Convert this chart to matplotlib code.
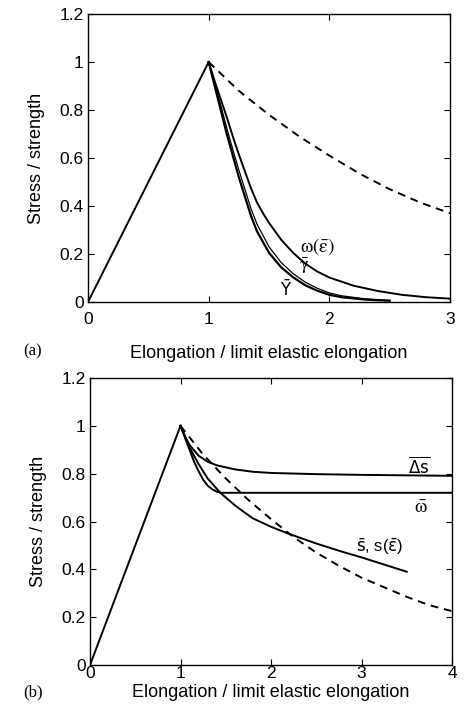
import matplotlib
matplotlib.use("Agg")
import matplotlib.pyplot as plt

plt.rcParams['font.family'] = ['Liberation Sans', 'DejaVu Sans']
plt.rcParams['mathtext.fontset'] = 'dejavusans'

# --- panel (a) ---
elastic_x = [0, 1]
elastic_y = [0, 1]

dash_a_x = [1, 1.25, 1.5, 1.75, 2.0, 2.25, 2.5, 2.75, 3.0]
dash_a_y = [1, 0.88, 0.78, 0.69, 0.61, 0.535, 0.47, 0.415, 0.37]

omega_x = [1, 1.05, 1.1, 1.15, 1.2, 1.25, 1.3, 1.35, 1.4, 1.45, 1.5, 1.6, 1.7, 1.8,
           1.9, 2.0, 2.2, 2.4, 2.6, 2.8, 3.0]
omega_y = [1, 0.92, 0.845, 0.77, 0.69, 0.615, 0.545, 0.475, 0.415, 0.37, 0.33, 0.26,
           0.205, 0.16, 0.127, 0.102, 0.068, 0.046, 0.03, 0.02, 0.014]

gam_x = [1, 1.05, 1.1, 1.15, 1.2, 1.25, 1.3, 1.35, 1.4, 1.5, 1.6, 1.7, 1.8, 1.9, 2.0,
         2.1, 2.3, 2.5]
gam_y = [1, 0.91, 0.82, 0.725, 0.635, 0.55, 0.47, 0.39, 0.325, 0.23, 0.165, 0.118,
         0.083, 0.057, 0.038, 0.026, 0.013, 0.007]

ybar_x = [1, 1.05, 1.1, 1.15, 1.2, 1.25, 1.3, 1.35, 1.4, 1.5, 1.6, 1.7, 1.8, 1.9, 2.0,
          2.1, 2.3, 2.5]
ybar_y = [1, 0.9, 0.8, 0.7, 0.61, 0.52, 0.44, 0.36, 0.295, 0.205, 0.145, 0.103,
          0.07, 0.047, 0.03, 0.02, 0.01, 0.005]

# --- panel (b) ---
dash_b_x = [1, 1.25, 1.5, 1.75, 2.0, 2.25, 2.5, 2.75, 3.0, 3.25, 3.5, 3.75, 4.0]
dash_b_y = [1, 0.88, 0.78, 0.69, 0.61, 0.535, 0.47, 0.415, 0.365, 0.325, 0.285, 0.25, 0.225]

ds_x = [1, 1.05, 1.1, 1.2, 1.3, 1.4, 1.6, 1.8, 2.0, 2.5, 3.0, 3.5, 4.0]
ds_y = [1, 0.955, 0.92, 0.875, 0.85, 0.835, 0.818, 0.808, 0.803, 0.798, 0.795, 0.793, 0.791]

wbar_x = [1, 1.05, 1.1, 1.15, 1.2, 1.25, 1.3, 1.35, 1.4, 1.45, 2.0, 3.0, 4.0]
wbar_y = [1, 0.95, 0.9, 0.85, 0.81, 0.775, 0.75, 0.735, 0.725, 0.72, 0.72, 0.72, 0.72]

sbar_x = [1, 1.1, 1.2, 1.3, 1.44, 1.6, 1.7, 1.8, 2.0, 2.2, 2.5, 2.8, 3.0, 3.25, 3.5]
sbar_y = [1, 0.91, 0.84, 0.78, 0.72, 0.668, 0.64, 0.613, 0.578, 0.548, 0.508, 0.472,
          0.45, 0.42, 0.39]

yticks = [0, 0.2, 0.4, 0.6, 0.8, 1, 1.2]
ytick_labels = ['0', '0.2', '0.4', '0.6', '0.8', '1', '1.2']

fig = plt.figure(figsize=(4.77, 7.13), dpi=100)
ax1 = fig.add_axes([88/477, 1-302/713, 362/477, 288/713])
ax2 = fig.add_axes([90/477, 1-665/713, 362/477, 287/713])

lw = 1.4
ax1.plot(elastic_x, elastic_y, color='k', lw=lw)
ax1.plot(dash_a_x, dash_a_y, color='k', lw=lw, ls=(0, (4, 3)))
ax1.plot(omega_x, omega_y, color='k', lw=lw)
ax1.plot(gam_x, gam_y, color='k', lw=0.9)
ax1.plot(ybar_x, ybar_y, color='k', lw=1.6)
ax1.text(1.9, 0.23, r'$\mathrm{\omega}(\bar{\mathrm{\varepsilon}})$', fontsize=14,
         ha='center', va='center', math_fontfamily='stix')
ax1.text(1.79, 0.15, r'$\bar{\mathrm{\gamma}}$', fontsize=13, ha='center', va='center',
         math_fontfamily='stix')
ax1.text(1.64, 0.055, r'$\bar{\mathrm{Y}}$', fontsize=12, ha='center', va='center')
ax1.set_xlim(0, 3)
ax1.set_xticks([0, 1, 2, 3])

ax2.plot(elastic_x, elastic_y, color='k', lw=lw)
ax2.plot(dash_b_x, dash_b_y, color='k', lw=lw, ls=(0, (4, 3)))
ax2.plot(ds_x, ds_y, color='k', lw=lw)
ax2.plot(wbar_x, wbar_y, color='k', lw=lw)
ax2.plot(sbar_x, sbar_y, color='k', lw=lw)
ax2.text(3.64, 0.835, r'$\overline{\mathrm{\Delta s}}$', fontsize=12, ha='center',
         va='center')
ax2.text(3.65, 0.655, r'$\bar{\mathrm{\omega}}$', fontsize=14, ha='center', va='center',
         math_fontfamily='stix')
ax2.text(3.2, 0.495, r'$\bar{\mathrm{s}}$, s($\bar{\mathrm{\varepsilon}}$)', fontsize=12,
         ha='center', va='center')
ax2.set_xlim(0, 4)
ax2.set_xticks([0, 1, 2, 3, 4])

for ax in (ax1, ax2):
    ax.set_ylim(0, 1.2)
    ax.set_yticks(yticks)
    ax.set_yticklabels(ytick_labels)
    ax.tick_params(direction='in', top=True, right=True, length=4, width=0.8,
                   labelsize=12.5, pad=3)
    ax.set_ylabel('Stress / strength', fontsize=13, labelpad=10.5)
    for s in ax.spines.values():
        s.set_linewidth(1.0)

ax1.tick_params(axis='x', pad=7)
ax1.set_xlabel('Elongation / limit elastic elongation', fontsize=13, labelpad=13)
ax2.tick_params(axis='x', pad=1)
ax2.set_xlabel('Elongation / limit elastic elongation', fontsize=13, labelpad=2)

fig.text(33/477, 1-351/713, '(a)', fontsize=12, family='Liberation Serif',
         ha='center', va='center')
fig.text(33/477, 1-692/713, '(b)', fontsize=12, family='Liberation Serif',
         ha='center', va='center')

fig.savefig('out.png', dpi=100)
